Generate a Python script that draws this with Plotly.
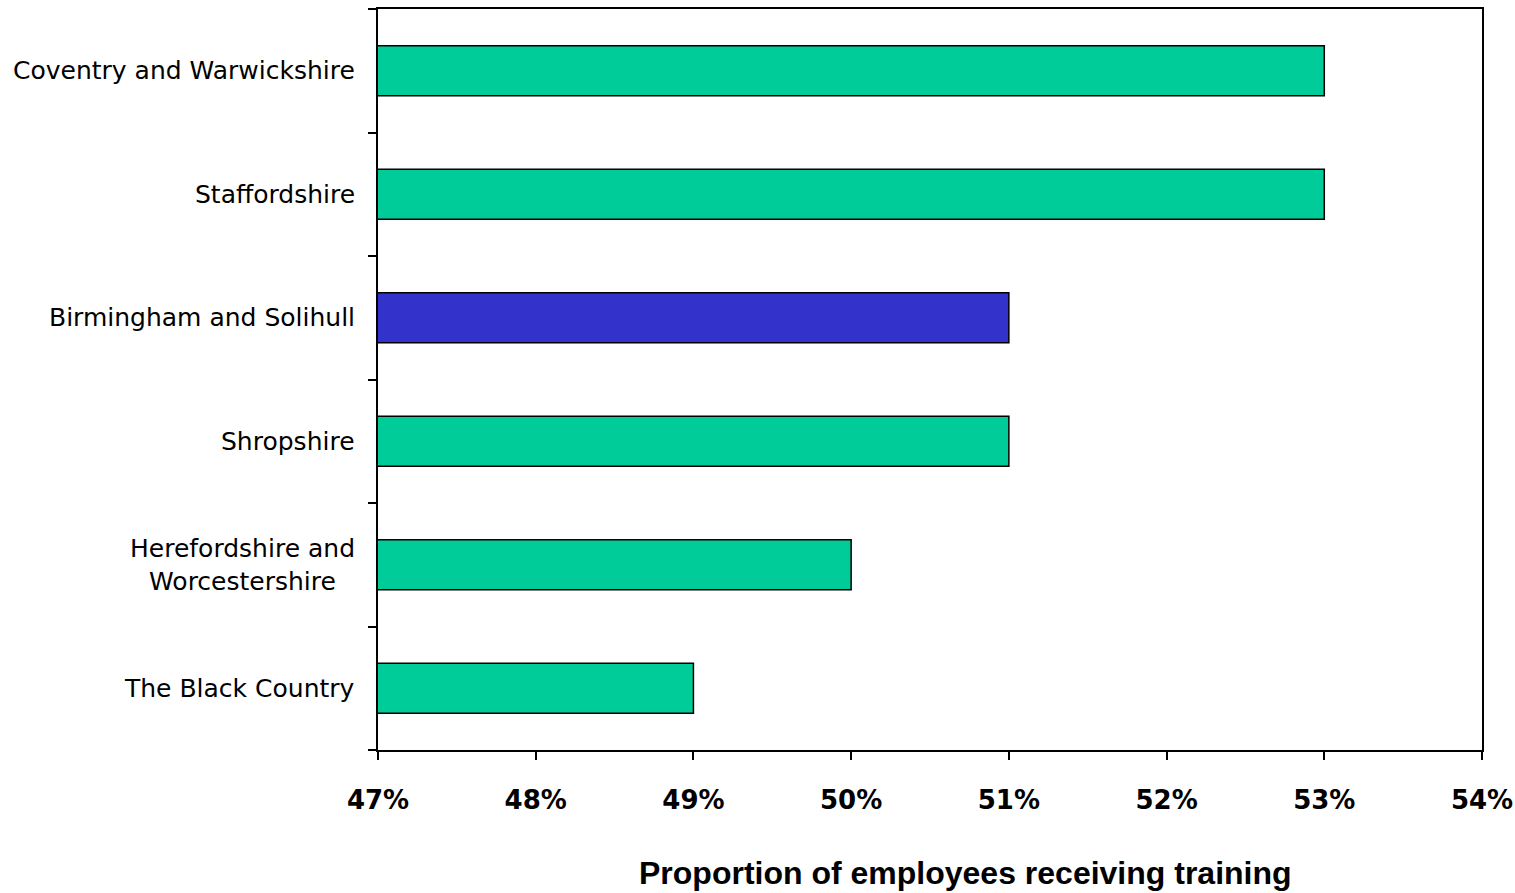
import plotly.graph_objects as go

regions = ["Coventry and Warwickshire", "Staffordshire", "Birmingham and Solihull",
           "Shropshire", "Herefordshire and Worcestershire", "The Black Country"]
region_labels = ["Coventry and Warwickshire", "Staffordshire", "Birmingham and Solihull",
                 "Shropshire", "Herefordshire and<br>Worcestershire", "The Black Country"]
values = [53, 53, 51, 51, 50, 49]
highlight = "Birmingham and Solihull"
x_ticks = [47, 48, 49, 50, 51, 52, 53, 54]

GREEN = "#00CC99"
BLUE = "#3333CC"
colors = [BLUE if r == highlight else GREEN for r in regions]

fig = go.Figure(go.Bar(
    y=regions, x=values, orientation="h",
    base=0,
    marker=dict(color=colors, line=dict(color="black", width=1.5)),
    hoverinfo="x+y",
))

for r, lab in zip(regions, region_labels):
    fig.add_annotation(x=0, xref="paper", y=r, yref="y", text=lab,
                       xanchor="right", yanchor="middle", align="center",
                       xshift=-21, showarrow=False,
                       font=dict(family="DejaVu Sans, sans-serif", size=25, color="black"))

fig.add_annotation(x=0.532, xref="paper", y=-0.166, yref="paper",
                   text="<b>Proportion of employees receiving training</b>",
                   xanchor="center", yanchor="middle", showarrow=False,
                   font=dict(family="Liberation Sans, Arial, sans-serif", size=32, color="black"))

fig.update_layout(
    width=1515, height=893,
    margin=dict(l=378, r=33, t=9, b=143, autoexpand=False),
    paper_bgcolor="white", plot_bgcolor="white",
    bargap=0.595,
    showlegend=False,
    xaxis=dict(range=[47, 54], tickvals=x_ticks, ticktext=[f"<b>{t}%</b>" for t in x_ticks],
               automargin=False,
               showgrid=False, zeroline=False,
               showline=True, linecolor="black", linewidth=2, mirror=True,
               ticks="outside", ticklen=8, tickwidth=2, tickcolor="black",
               ticklabelstandoff=18,
               tickfont=dict(family="DejaVu Sans, sans-serif", size=26, color="black")),
    yaxis=dict(categoryorder="array", categoryarray=regions[::-1],
               automargin=False,
               showgrid=False, zeroline=False, showticklabels=False,
               showline=True, linecolor="black", linewidth=2, mirror=True,
               ticks="outside", ticklen=8, tickwidth=2, tickcolor="black",
               tickson="boundaries"),
)

fig.write_html("out.html", config={"displayModeBar": False},
               post_script="document.body.style.margin='0';document.body.style.overflow='hidden';")
